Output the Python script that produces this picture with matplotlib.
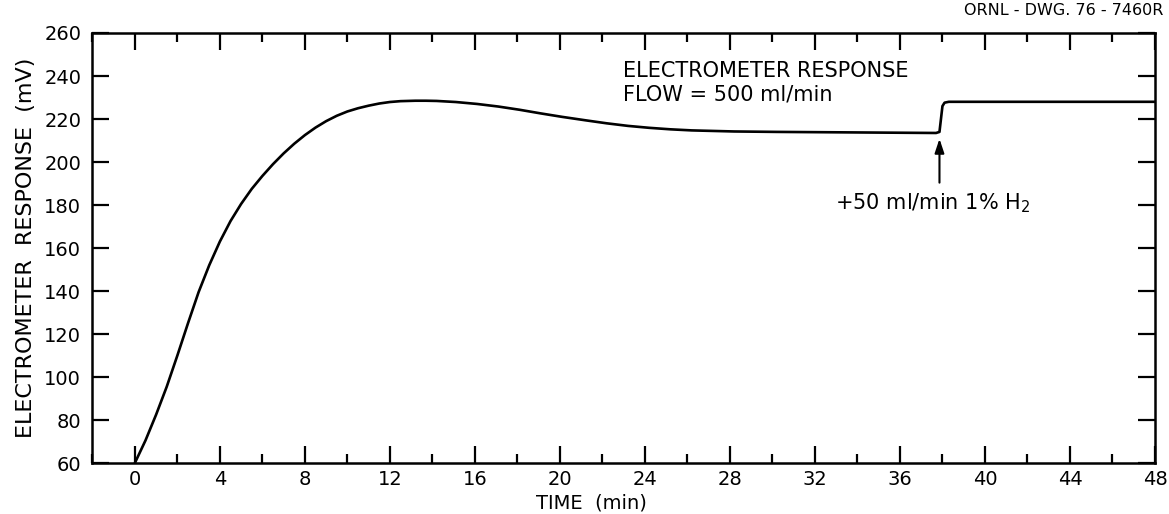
import matplotlib
matplotlib.use("Agg")
import matplotlib.pyplot as plt
from matplotlib.ticker import MultipleLocator

plt.rcParams['font.family'] = ['DejaVu Sans']
plt.rcParams['mathtext.default'] = 'regular'

# values
time_min = [0.0, 0.5, 1.0, 1.5, 2.0, 2.5, 3.0, 3.5, 4.0, 4.5, 5.0, 5.5,
            6.0, 6.5, 7.0, 7.5, 8.0, 8.5, 9.0, 9.5, 10.0, 10.5, 11.0,
            11.5, 12.0, 12.5, 13.2, 13.7, 14.2, 15.1, 16.1, 17.1, 18.1,
            19.1, 20.1, 21.2, 22.2, 23.2, 24.2, 25.2, 26.2, 28.2, 30.2,
            33.2, 36.2, 37.7, 37.86, 37.93, 38.0, 38.1, 38.3, 48.0]
response_mv = [60.0, 70.5, 82.5, 95.5, 110.0, 125.0, 139.5, 152.0, 163.0,
               172.5, 180.5, 187.5, 193.5, 199.0, 204.0, 208.5, 212.5,
               216.0, 219.0, 221.5, 223.5, 225.0, 226.2, 227.2, 227.9,
               228.3, 228.5, 228.5, 228.4, 227.9, 227.0, 225.8, 224.3,
               222.6, 221.0, 219.4, 218.0, 216.8, 215.9, 215.2, 214.7,
               214.2, 214.0, 213.8, 213.6, 213.5, 214.0, 220.0, 226.0,
               227.6, 228.0, 228.0]

x_ticks = list(range(0, 49, 4))
y_ticks = list(range(60, 261, 20))

arrow_time = 37.86
arrow_tip = 210.8
arrow_tail = 190.4

fig = plt.figure(figsize=(11.69, 5.14), dpi=100)
fig.subplots_adjust(left=0.079, right=0.988, top=0.9358, bottom=0.0992)
ax = fig.add_subplot(111)

ax.plot(time_min, response_mv, color='black', lw=1.9, solid_capstyle='round',
        solid_joinstyle='round')

ax.set_xlim(-2, 48)
ax.set_ylim(60, 260)
ax.set_xticks(x_ticks)
ax.xaxis.set_minor_locator(MultipleLocator(2))
ax.set_yticks(y_ticks)

ax.tick_params(axis='both', which='major', direction='in', length=12,
               width=1.6, labelsize=14, top=True, right=True, pad=8)
ax.tick_params(axis='x', which='major', pad=5)
ax.tick_params(axis='x', which='minor', direction='in', length=6.5,
               width=1.6, top=True)
ax.tick_params(axis='y', which='minor', left=False, right=False)
for s in ax.spines.values():
    s.set_linewidth(1.8)

ax.set_xlabel('TIME  (min)', fontsize=14, va='center')
ax.xaxis.set_label_coords(0.47, -0.092)
ax.set_ylabel('ELECTROMETER  RESPONSE  (mV)', fontsize=16, labelpad=6)

ax.text(22.96, 242.3, 'ELECTROMETER RESPONSE', fontsize=15,
        ha='left', va='center')
ax.text(22.96, 231.6, 'FLOW = 500 ml/min', fontsize=15,
        ha='left', va='center')

ax.annotate('', xy=(arrow_time, arrow_tip), xytext=(arrow_time, arrow_tail),
            arrowprops=dict(arrowstyle='-|>,head_length=0.6,head_width=0.2',
                            color='black', lw=1.5, mutation_scale=14,
                            shrinkA=0, shrinkB=0))
ax.text(32.95, 181, '+50 ml/min 1% H$_2$', fontsize=15, ha='left', va='center')

fig.text(0.995, 0.979, 'ORNL - DWG. 76 - 7460R', fontsize=11.5,
         ha='right', va='center')

fig.savefig('out.png', dpi=100)
